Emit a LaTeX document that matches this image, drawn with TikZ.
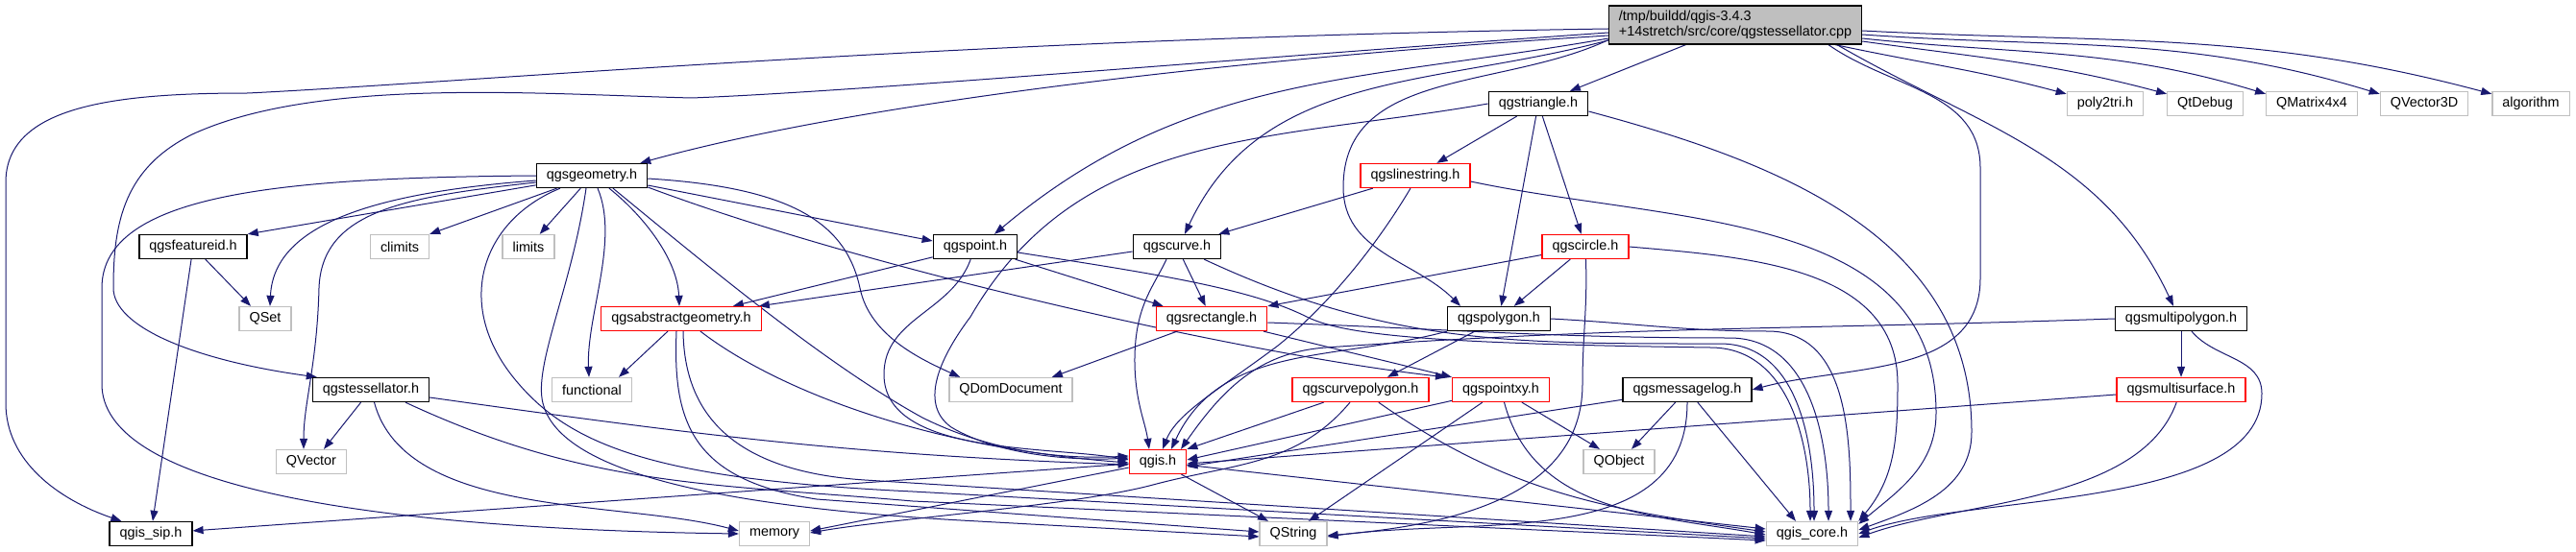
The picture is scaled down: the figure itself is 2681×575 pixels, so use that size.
\documentclass[tikz,border=0pt]{standalone}
\usepackage{fontspec}
\setmainfont{Liberation Sans}
\usepackage{tikz}
\usetikzlibrary{arrows.meta,backgrounds}
\definecolor{depblue}{RGB}{25,25,112}
\definecolor{extgrey}{RGB}{191,191,191}

\begin{document}
\begin{tikzpicture}[x=1pt,y=1pt,>={Triangle[length=11pt,width=8pt]},
    font=\fontsize{14.4}{15.5}\selectfont,
    hdr/.style={draw=black,fill=white,line width=1.3pt,minimum height=25pt,inner xsep=10.5pt,inner ysep=1pt},
    trunc/.style={hdr,draw=red},
    ext/.style={hdr,draw=extgrey},
    src/.style={hdr,fill=extgrey,align=left,minimum height=40pt},
    dep/.style={->,draw=depblue,line width=1pt}]
    \useasboundingbox (0,0) rectangle (2681,-575);
    % headers, row by row
    \node[src] (cpp) at (1806,-26) {/tmp/buildd/qgis-3.4.3\\+14stretch/src/core/qgstessellator.cpp};
    \node[hdr] (tri) at (1601,-108) {qgstriangle.h};
    \node[ext] (p2t) at (2191,-108) {poly2tri.h};
    \node[ext] (qdbg) at (2295,-108) {QtDebug};
    \node[ext] (qmat) at (2406,-108) {QMatrix4x4};
    \node[ext] (qv3d) at (2523,-108) {QVector3D};
    \node[ext] (algo) at (2634,-108) {algorithm};
    \node[hdr] (geom) at (616,-183) {qgsgeometry.h};
    \node[trunc] (lstr) at (1473,-183) {qgslinestring.h};
    \node[hdr] (fid) at (201,-257) {qgsfeatureid.h};
    \node[ext] (clim) at (416,-257) {climits};
    \node[ext] (lim) at (550,-257) {limits};
    \node[hdr] (pnt) at (1015,-257) {qgspoint.h};
    \node[hdr] (crv) at (1225,-257) {qgscurve.h};
    \node[trunc] (circ) at (1650,-257) {qgscircle.h};
    \node[ext] (qset) at (276,-332) {QSet};
    \node[trunc] (absg) at (709,-332) {qgsabstractgeometry.h};
    \node[trunc] (rect) at (1261,-332) {qgsrectangle.h};
    \node[hdr] (poly) at (1560,-332) {qgspolygon.h};
    \node[hdr] (mpoly) at (2270,-332) {qgsmultipolygon.h};
    \node[hdr] (tess) at (386,-406) {qgstessellator.h};
    \node[ext] (func) at (616,-406) {functional};
    \node[ext] (qdom) at (1052,-406) {QDomDocument};
    \node[trunc] (cpoly) at (1416,-406) {qgscurvepolygon.h};
    \node[trunc] (pxy) at (1562,-406) {qgspointxy.h};
    \node[hdr] (mlog) at (1756,-406) {qgsmessagelog.h};
    \node[trunc] (msurf) at (2270,-406) {qgsmultisurface.h};
    \node[ext] (qvec) at (324,-481) {QVector};
    \node[trunc] (qgis) at (1205,-481) {qgis.h};
    \node[ext] (qobj) at (1685,-481) {QObject};
    \node[hdr] (sip) at (157,-556) {qgis\_sip.h};
    \node[ext] (mem) at (806,-556) {memory};
    \node[ext] (qstr) at (1346,-556) {QString};
    \node[ext] (core) at (1886,-556) {qgis\_core.h};

    \begin{scope}[on background layer]
    \fill[white] (0,0) rectangle (2681,-575);
    % from the .cpp file
    \draw[dep] ([yshift=-4pt]cpp.west) .. controls (1000,-40) and (500,-85) .. (258,-97) .. controls (120,-97) and (6,-110) .. (6,-190) -- (6,-420) .. controls (6,-480) and (60,-520) .. ([xshift=13pt]sip.north west);
    \draw[dep] ([yshift=-8pt]cpp.west) .. controls (1300,-60) and (900,-95) .. (720,-102) .. controls (560,-98) and (330,-80) .. (200,-140) .. controls (130,-175) and (118,-230) .. (118,-300) .. controls (118,-340) and (200,-375) .. ([xshift=5pt]tess.north west);
    \draw[dep] ([yshift=-11pt]cpp.west) .. controls (1300,-60) and (900,-105) .. ([xshift=-8pt]geom.north east);
    \draw[dep] ([yshift=-14pt]cpp.west) to[out=190,in=40] ([xshift=20pt]pnt.north);
    \draw[dep] ([yshift=-16pt]cpp.west) to[out=195,in=65] ([xshift=8pt]crv.north);
    \draw[dep] ([yshift=5pt]cpp.south west) to[out=205,in=90] (1398,-195) to[out=-90,in=135] ([xshift=14pt]poly.north west);
    \draw[dep] (cpp) -- (tri);
    \draw[dep] ([xshift=97pt]cpp.south) to[out=-35,in=90] (2061,-175) -- (2061,-290) to[out=-90,in=15] (mlog.east);
    \draw[dep] ([xshift=106pt]cpp.south) to[out=-30,in=115] ([xshift=-8pt]mpoly.north);
    \draw[dep] ([xshift=-28pt]cpp.south east) to[out=-12,in=165] ([yshift=-3pt]p2t.north west);
    \draw[dep] ([yshift=-17pt]cpp.east) to[out=-8,in=165] ([yshift=-3pt]qdbg.north west);
    \draw[dep] ([yshift=-14pt]cpp.east) to[out=-6,in=163] ([yshift=-3pt]qmat.north west);
    \draw[dep] ([yshift=-10pt]cpp.east) to[out=-4,in=163] ([yshift=-3pt]qv3d.north west);
    \draw[dep] ([yshift=-6pt]cpp.east) to[out=-3,in=165] ([yshift=-3pt]algo.north west);
    % qgstriangle.h
    \draw[dep] (tri) -- (lstr);
    \draw[dep] (tri) -- (circ);
    \draw[dep] (tri) -- (poly);
    \draw[dep] (tri.west) to[out=190,in=60] (1010,-330) .. controls (980,-370) and (955,-420) .. (990,-445) .. controls (1040,-475) and (1120,-480) .. ([yshift=4pt]qgis.west);
    \draw[dep] ([yshift=-8pt]tri.east) to[out=-15,in=90] (2052,-450) to[out=-90,in=20] ([yshift=4pt]core.east);
    % qgsgeometry.h
    \draw[dep] (geom) -- (fid.north east);
    \draw[dep] (geom) -- (clim.north east);
    \draw[dep] (geom) -- (lim);
    \draw[dep] ([yshift=-5pt]geom.west) .. controls (400,-200) and (285,-230) .. ([xshift=5pt]qset.north);
    \draw[dep] ([yshift=-7pt]geom.west) .. controls (420,-205) and (335,-220) .. (332,-300) .. controls (330,-380) and (316,-420) .. ([xshift=-8pt]qvec.north);
    \draw[dep] (geom.west) .. controls (300,-185) and (106,-200) .. (106,-300) -- (106,-400) .. controls (106,-500) and (350,-550) .. (mem.west);
    \draw[dep] ([xshift=6pt]geom.south) .. controls (645,-250) and (610,-330) .. ([xshift=-3pt]func.north);
    \draw[dep] ([xshift=18pt]geom.south) .. controls (670,-225) and (705,-270) .. ([xshift=-2pt]absg.north);
    \draw[dep] ([xshift=22pt]geom.south) .. controls (740,-280) and (860,-380) .. (960,-435) .. controls (1040,-475) and (1120,-478) .. ([yshift=6pt]qgis.west);
    \draw[dep] ([xshift=-6pt]geom.south) .. controls (595,-300) and (555,-380) .. (565,-420) .. controls (580,-480) and (700,-525) .. (1000,-542) -- ([yshift=-3pt]qstr.west);
    \draw[dep] ([xshift=-33pt]geom.south) .. controls (500,-230) and (470,-320) .. (540,-400) .. controls (600,-470) and (700,-500) .. (950,-512) -- ([yshift=-5pt]core.west);
    \draw[dep] ([yshift=-10pt]geom.east) -- ([yshift=6pt]pnt.west);
    \draw[dep] ([yshift=-3pt]geom.east) .. controls (820,-195) and (880,-230) .. (895,-300) .. controls (905,-350) and (960,-375) .. ([xshift=12pt]qdom.north west);
    \draw[dep] ([yshift=-12pt]geom.east) .. controls (900,-280) and (1300,-370) .. ([xshift=-6pt]pxy.north west);
    % qgsfeatureid.h
    \draw[dep] (fid) -- ([xshift=-15pt]qset.north);
    \draw[dep] (fid) -- (sip);
    % qgspoint.h
    \draw[dep] (pnt) -- ([xshift=-30pt]absg.north east);
    \draw[dep] (pnt) -- ([xshift=8pt]rect.north west);
    \draw[dep] (pnt) to[out=-110,in=90] (920,-390) to[out=-90,in=170,looseness=0.8] ([yshift=2pt]qgis.west);
    \draw[dep] ([yshift=-6pt]pnt.east) .. controls (1200,-285) and (1300,-300) .. (1360,-330) .. controls (1400,-350) and (1500,-358) .. (1780,-362) to[out=0,in=90] ([xshift=-2pt]core.north);
    % qgscurve.h
    \draw[dep] ([yshift=-5pt]crv.west) -- ([xshift=-3pt]absg.north east);
    \draw[dep] (crv) -- (rect);
    \draw[dep] ([xshift=-11pt]crv.south) .. controls (1200,-300) and (1180,-320) .. (1181,-380) .. controls (1182,-420) and (1192,-440) .. ([xshift=-9pt]qgis.north);
    \draw[dep] (crv) to[out=-25,in=180] (1790,-358) to[out=0,in=90] ([xshift=2pt]core.north);
    % qgslinestring.h
    \draw[dep] (lstr) -- ([xshift=-3pt]crv.north east);
    \draw[dep] ([xshift=-5pt]lstr.south) .. controls (1430,-260) and (1380,-320) .. (1330,-360) .. controls (1270,-405) and (1225,-430) .. ([xshift=5pt]qgis.north);
    \draw[dep] ([yshift=-6pt]lstr.east) to[out=-12,in=90] (2015,-430) to[out=-90,in=40] ([yshift=-3pt]core.north east);
    % qgscircle.h
    \draw[dep] (circ) -- (rect.north east);
    \draw[dep] (circ) -- (poly);
    \draw[dep] (circ) to[out=-88,in=90] (1647,-400) to[out=-90,in=5] ([yshift=-2pt]qstr.east);
    \draw[dep] (circ.east) to[out=-5,in=90] (1975,-400) to[out=-90,in=50] (core.north east);
    % qgsabstractgeometry.h
    \draw[dep] (absg) -- ([xshift=-14pt]func.north east);
    \draw[dep] ([xshift=20pt]absg.south) .. controls (800,-400) and (950,-465) .. ([yshift=-1pt]qgis.west);
    \draw[dep] ([xshift=-5pt]absg.south) .. controls (700,-440) and (720,-500) .. (850,-520) -- ([yshift=2pt]qstr.west);
    \draw[dep] ([xshift=2pt]absg.south) .. controls (712,-420) and (750,-490) .. (900,-500) -- ([yshift=-3pt]core.west);
    % qgsrectangle.h
    \draw[dep] (rect) -- ([xshift=-22pt]qdom.north east);
    \draw[dep] (rect) -- (pxy.north west);
    \draw[dep] ([yshift=-4pt]rect.east) to[out=-2,in=180] (1800,-352) to[out=0,in=90] ([xshift=17pt]core.north);
    % qgspolygon.h
    \draw[dep] (poly) -- ([xshift=28pt]cpoly.north);
    \draw[dep] (poly.south west) to[out=195,in=65] ([xshift=14pt]qgis.north);
    \draw[dep] (poly.east) to[out=-3,in=180] (1840,-345) to[out=0,in=90] ([xshift=40pt]core.north);
    % qgsmultipolygon.h
    \draw[dep] (mpoly) -- (msurf);
    \draw[dep] (mpoly.west) to[out=182,in=4] (1380,-362) to[out=184,in=55] ([xshift=24pt]qgis.north);
    \draw[dep] (mpoly) to[out=-50,in=90] (2354,-410) to[out=-90,in=20,looseness=0.7] (core.east);
    % qgsmultisurface.h
    \draw[dep] (msurf) -- ([yshift=-2pt]qgis.east);
    \draw[dep] (msurf) to[out=-110,in=20,looseness=0.8] ([yshift=-4pt]core.east);
    % qgsmessagelog.h
    \draw[dep] (mlog) -- ([yshift=-5pt]qgis.east);
    \draw[dep] (mlog) -- ([xshift=13pt]qobj.north);
    \draw[dep] (mlog) to[out=-90,in=8] ([yshift=-3pt]qstr.east);
    \draw[dep] (mlog) -- ([xshift=-17pt]core.north);
    % qgspointxy.h
    \draw[dep] (pxy) -- ([yshift=2pt]qgis.east);
    \draw[dep] (pxy) -- ([xshift=16pt]qstr.north);
    \draw[dep] (pxy) -- ([xshift=-20pt]qobj.north);
    \draw[dep] (pxy) to[out=-75,in=170] ([yshift=-1pt]core.west);
    % qgscurvepolygon.h
    \draw[dep] (cpoly) -- (qgis.north east);
    \draw[dep] (cpoly) to[out=-130,in=15] (1200,-505) to[out=195,in=10,looseness=0.6] ([yshift=1pt]mem.east);
    \draw[dep] (cpoly) to[out=-35,in=172] ([yshift=2pt]core.west);
    % qgis.h
    \draw[dep] (qgis) -- (sip);
    \draw[dep] (qgis) -- ([yshift=3pt]mem.east);
    \draw[dep] (qgis) -- ([xshift=-26pt]qstr.north);
    \draw[dep] (qgis) -- ([yshift=5pt]core.west);
    % qgstessellator.h
    \draw[dep] (tess) -- ([xshift=13pt]qvec.north);
    \draw[dep] (tess) to[out=-75,in=165,looseness=0.8] ([yshift=3pt]mem.west);
    \draw[dep] ([yshift=-8pt]tess.east) to[out=-8,in=178] ([yshift=-3pt]qgis.west);
    \draw[dep] ([xshift=36pt]tess.south) to[out=-25,in=175] (950,-522) -- ([yshift=-7pt]core.west);
    \end{scope}
\end{tikzpicture}
\end{document}
